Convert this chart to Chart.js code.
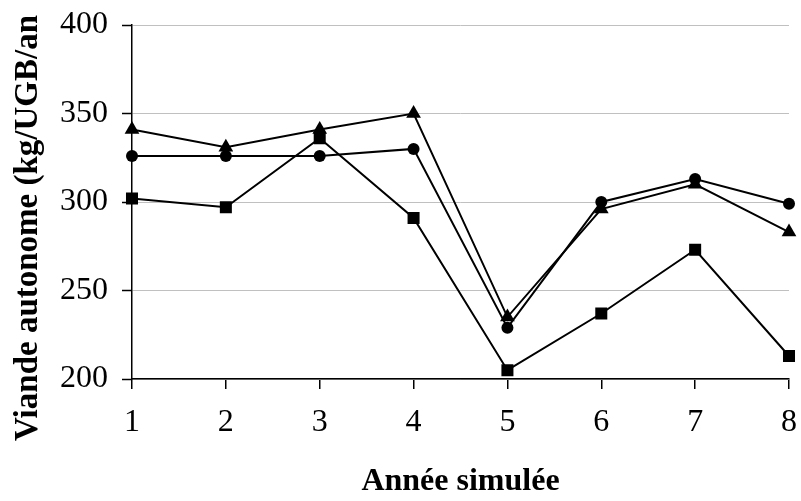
<!DOCTYPE html>
<html>
<head>
<meta charset="utf-8">
<script src="https://cdn.jsdelivr.net/npm/chart.js@4"></script>
<style>
  body { margin: 0; background: #fff; }
  canvas { display: block; }
</style>
</head>
<body>
<canvas id="chart" width="801" height="501"></canvas>
<script>
const annees = ["1", "2", "3", "4", "5", "6", "7", "8"];
const serieTriangle = [341, 331, 341, 350, 235, 296, 310, 283];
const serieRond = [326, 326, 326, 330, 229, 300, 313, 299];
const serieCarre = [302, 297, 336, 291, 205, 237, 273, 213];
const yMin = 200, yMax = 400, yStep = 50;

const titreY = "Viande autonome (kg/UGB/an";
const titreX = "Année simulée";

const serif = "'Liberation Serif', 'Times New Roman', serif";

// titres des axes dessinés à la main pour les placer comme l'original
const titres = {
  id: "titres",
  afterDraw(chart) {
    const ctx = chart.ctx;
    const area = chart.chartArea;
    ctx.save();
    ctx.fillStyle = "#000";
    ctx.font = "bold 32px " + serif;
    ctx.textAlign = "center";
    ctx.textBaseline = "middle";
    ctx.fillText(titreX, (area.left + area.right) / 2, 482);
    ctx.translate(28, 228);
    ctx.rotate(-Math.PI / 2);
    ctx.font = "bold 33px " + serif;
    ctx.fillText(titreY, 0, 0);
    ctx.restore();
  }
};

function serie(data, style, radius) {
  return {
    data: data,
    borderColor: "#000",
    backgroundColor: "#000",
    borderWidth: 2,
    pointStyle: style,
    pointRadius: radius,
    pointHoverRadius: radius,
    pointBorderWidth: 0,
    tension: 0
  };
}

new Chart(document.getElementById("chart"), {
  type: "line",
  data: {
    labels: annees,
    datasets: [
      serie(serieTriangle, "triangle", 8.5),
      serie(serieRond, "circle", 6),
      serie(serieCarre, "rect", 8.5)
    ]
  },
  options: {
    responsive: false,
    animation: false,
    layout: { padding: { left: 0, right: 12, top: 25, bottom: 0 } },
    plugins: { legend: { display: false }, tooltip: { enabled: false } },
    scales: {
      x: {
        offset: false,
        grid: { drawOnChartArea: false, drawTicks: true, tickLength: 10, tickColor: "#000", lineWidth: 1.5 },
        border: { color: "#000", width: 1.5 },
        ticks: { color: "#000", font: { family: serif, size: 32 }, padding: 14, maxRotation: 0 },
        afterFit(scale) {
          scale.height = 122;
          scale.paddingLeft = 0;
          scale.paddingRight = 0;
        }
      },
      y: {
        min: yMin,
        max: yMax,
        grid: {
          color: "#c0c0c0",
          lineWidth: 1,
          drawTicks: true,
          tickLength: 10,
          tickColor: "#000",
          tickWidth: 1.5
        },
        border: { color: "#000", width: 1.5 },
        ticks: { stepSize: yStep, color: "#000", font: { family: serif, size: 32 }, padding: 14 },
        afterFit(scale) {
          scale.width = 132;
          scale.paddingTop = 0;
          scale.paddingBottom = 0;
        }
      }
    }
  },
  plugins: [titres]
});
</script>
</body>
</html>
